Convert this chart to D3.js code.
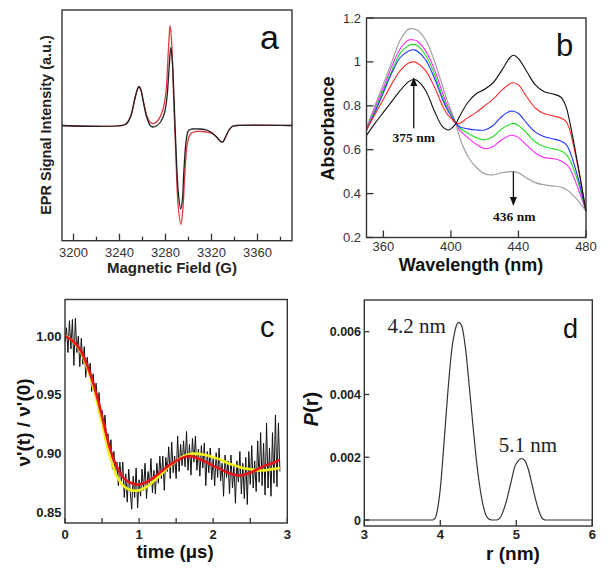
<!DOCTYPE html>
<html><head><meta charset="utf-8">
<script src="https://cdn.jsdelivr.net/npm/d3@7"></script>
<style>
html,body{margin:0;padding:0;background:#fff;}
svg{display:block;font-family:"Liberation Sans",Arial,sans-serif;}
</style></head>
<body>
<svg id="fig" width="608" height="577"></svg>
<script>
// ---------- Panel a: EPR spectra ----------
const aBlackField = [3190,3244,3247,3250,3253,3255.5,3257,3258.5,3261,3264,3267,3269,3272,3276,3279,3281,3283,3284.6,3286,3287.5,3289,3291,3293.2,3294.7,3296,3298,3300,3303,3310,3316,3320,3324,3327,3329.7,3332,3335,3338,3342,3390];
const aBlackVal   = [0,0.005,0.03,0.10,0.25,0.36,0.39,0.36,0.22,0.07,-0.005,-0.015,-0.005,0.04,0.12,0.25,0.55,0.78,0.63,0.25,-0.2,-0.65,-0.835,-0.74,-0.45,-0.15,-0.05,-0.035,-0.035,-0.045,-0.07,-0.11,-0.15,-0.165,-0.12,-0.05,-0.01,0,0];
const aRedField   = [3190,3244,3247,3250,3253,3255.5,3257,3258.5,3261,3264,3267,3270,3274,3278,3280.5,3282.5,3284,3285.5,3287,3289,3291,3293.4,3295,3297,3299,3302,3306,3312,3318,3322,3325,3328,3329.7,3332,3335,3338,3342,3390];
const aRedVal     = [0,0.005,0.03,0.10,0.25,0.36,0.39,0.36,0.23,0.09,0.03,0.02,0.06,0.17,0.35,0.75,1.0,0.8,0.3,-0.3,-0.8,-0.99,-0.85,-0.45,-0.18,-0.08,-0.06,-0.06,-0.07,-0.09,-0.12,-0.16,-0.165,-0.12,-0.05,-0.01,0,0];
const aTicks = [3200,3240,3280,3320,3360];
const aMinorTicks = [3220,3260,3300,3340,3380];

// ---------- Panel b: absorbance spectra ----------
const bWavelength = [350,355,360,365,370,375,378,380,385,390,395,398,400,403,405,410,415,420,425,430,435,437,440,445,450,455,460,465,468,470,475,480];
const bBlack   = [0.665,0.72,0.77,0.82,0.87,0.91,0.92,0.915,0.87,0.78,0.705,0.69,0.695,0.72,0.75,0.815,0.855,0.875,0.905,0.96,1.02,1.03,1.015,0.955,0.895,0.865,0.855,0.84,0.80,0.74,0.54,0.32];
const bRed     = [0.69,0.76,0.83,0.90,0.96,0.995,1.0,0.995,0.96,0.89,0.80,0.76,0.745,0.72,0.72,0.745,0.77,0.80,0.83,0.87,0.90,0.905,0.895,0.84,0.79,0.765,0.755,0.745,0.73,0.70,0.53,0.32];
const bBlue    = [0.69,0.77,0.86,0.95,1.02,1.05,1.055,1.05,1.01,0.93,0.83,0.78,0.755,0.72,0.705,0.695,0.69,0.69,0.71,0.75,0.775,0.775,0.765,0.72,0.68,0.66,0.65,0.64,0.625,0.60,0.48,0.32];
const bGreen   = [0.69,0.78,0.87,0.96,1.04,1.075,1.08,1.075,1.03,0.95,0.84,0.79,0.765,0.72,0.70,0.675,0.655,0.645,0.66,0.695,0.715,0.72,0.71,0.675,0.635,0.615,0.605,0.595,0.58,0.56,0.46,0.32];
const bMagenta = [0.69,0.79,0.88,0.98,1.06,1.10,1.10,1.095,1.05,0.97,0.86,0.80,0.77,0.72,0.69,0.655,0.625,0.605,0.615,0.645,0.665,0.665,0.655,0.62,0.585,0.565,0.56,0.55,0.535,0.52,0.43,0.32];
const bGray    = [0.70,0.80,0.90,1.00,1.10,1.15,1.15,1.145,1.10,1.01,0.89,0.82,0.78,0.72,0.66,0.57,0.52,0.49,0.485,0.495,0.50,0.50,0.495,0.47,0.45,0.44,0.435,0.43,0.42,0.41,0.37,0.32];
const bXTicks = [360,400,440,480];
const bYTicks = [0.2,0.4,0.6,0.8,1.0,1.2];

// ---------- Panel c: DEER time trace ----------
const cStart = 0, cStep = 0.02;
const cData = [0.995,1.007,0.986,1.013,0.989,1.014,0.975,1.015,0.986,1.000,0.974,0.998,0.976,0.991,0.965,0.982,0.968,0.977,0.953,0.968,
0.952,0.960,0.941,0.952,0.928,0.937,0.920,0.933,0.912,0.917,0.898,0.912,0.887,0.902,0.882,0.893,0.873,0.893,0.877,0.893,
0.863,0.883,0.859,0.887,0.868,0.853,0.881,0.863,0.888,0.854,0.878,0.864,0.887,0.869,0.892,0.862,0.885,0.874,0.896,0.867,
0.886,0.866,0.892,0.875,0.898,0.879,0.898,0.869,0.897,0.885,0.906,0.879,0.910,0.884,0.898,0.879,0.915,0.885,0.908,0.890,
0.911,0.889,0.919,0.886,0.908,0.882,0.913,0.893,0.915,0.886,0.904,0.881,0.907,0.888,0.909,0.873,0.902,0.884,0.905,0.878,
0.896,0.873,0.901,0.880,0.905,0.877,0.892,0.864,0.899,0.880,0.894,0.866,0.899,0.871,0.890,0.858,0.894,0.876,0.902,0.866,
0.892,0.862,0.897,0.857,0.902,0.874,0.907,0.871,0.894,0.868,0.911,0.876,0.918,0.873,0.909,0.865,0.926,0.871,0.905,0.864,
0.918,0.875,0.933,0.872,0.926,0.885];
const cRedT   = [0,0.1,0.2,0.3,0.4,0.5,0.6,0.7,0.8,0.9,1.0,1.1,1.2,1.3,1.4,1.5,1.6,1.7,1.8,1.9,2.0,2.1,2.2,2.3,2.4,2.5,2.6,2.7,2.8,2.9];
const cRedV   = [1.0,0.996,0.989,0.975,0.956,0.932,0.906,0.889,0.879,0.875,0.874,0.876,0.880,0.885,0.890,0.894,0.897,0.898,0.896,0.893,0.890,0.887,0.884,0.882,0.882,0.884,0.887,0.890,0.892,0.895];
const cYellowV= [1.0,0.996,0.988,0.973,0.952,0.926,0.899,0.881,0.872,0.869,0.869,0.872,0.877,0.883,0.889,0.894,0.898,0.900,0.900,0.899,0.897,0.895,0.892,0.890,0.888,0.887,0.886,0.886,0.887,0.888];
const cXTicks = [0,0.5,1,1.5,2,2.5,3];
const cXLabels = [0,1,2,3];
const cYTicks = [0.85,0.90,0.95,1.00];

// ---------- Panel d: distance distribution ----------
const dR = [3.0,3.9,3.93,3.96,4.0,4.05,4.1,4.15,4.2,4.24,4.28,4.33,4.38,4.43,4.48,4.53,4.58,4.63,4.68,4.74,4.78,4.83,4.88,4.93,4.98,5.03,5.07,5.11,5.16,5.21,5.26,5.31,5.35,5.38,6.0];
const dP = [0,0,0.00005,0.0003,0.0010,0.0025,0.0041,0.0054,0.0061,0.0063,0.0062,0.0055,0.0043,0.0030,0.0018,0.0009,0.0003,0.00005,0,0,0.00005,0.0003,0.0007,0.0012,0.0017,0.0019,0.00196,0.0019,0.0016,0.0011,0.0006,0.0002,0.00003,0,0];
const dXTicks = [3,4,5,6];
const dYTicks = [0,0.002,0.004,0.006];

const svg = d3.select("#fig");
const boxColor = "#333";
const SERIF = "'Liberation Serif','Times New Roman',serif";

function box(g, x, y){
  g.append("rect").attr("x", x.range()[0]).attr("y", y.range()[1])
   .attr("width", x.range()[1]-x.range()[0]).attr("height", y.range()[0]-y.range()[1])
   .attr("fill","none").attr("stroke",boxColor).attr("stroke-width",1.4);
}
function xTicksIn(g, x, y, vals, len){
  g.selectAll(null).data(vals).enter().append("line")
   .attr("x1", d=>x(d)).attr("x2", d=>x(d))
   .attr("y1", y.range()[0]).attr("y2", y.range()[0]-len)
   .attr("stroke",boxColor).attr("stroke-width",1.3);
}
function yTicksIn(g, x, y, vals, len){
  g.selectAll(null).data(vals).enter().append("line")
   .attr("y1", d=>y(d)).attr("y2", d=>y(d))
   .attr("x1", x.range()[0]).attr("x2", x.range()[0]+len)
   .attr("stroke",boxColor).attr("stroke-width",1.3);
}

// ===== Panel a =====
{
  const g = svg.append("g");
  const x = d3.scaleLinear().domain([3190,3390]).range([62,292]);
  const y = d3.scaleLinear().domain([-1.152,1.155]).range([240.7,10]);
  const line = d3.line().curve(d3.curveCatmullRom.alpha(0.5)).x(d=>x(d[0])).y(d=>y(d[1]));
  g.append("path").attr("d", line(d3.zip(aRedField,aRedVal))).attr("fill","none").attr("stroke","#e0393e").attr("stroke-width",1.3);
  g.append("path").attr("d", line(d3.zip(aBlackField,aBlackVal))).attr("fill","none").attr("stroke","#222").attr("stroke-width",1.3);
  box(g,x,y);
  xTicksIn(g,x,y,aTicks,7);
  xTicksIn(g,x,y,aMinorTicks,4);
  g.selectAll(null).data(aTicks).enter().append("text")
   .attr("x",d=>x(d)).attr("y",256.5).attr("text-anchor","middle")
   .attr("font-size",13).attr("fill","#333").text(d=>d);
  g.append("text").attr("x",172).attr("y",273).attr("text-anchor","middle")
   .attr("font-size",15).attr("font-weight","bold").attr("fill","#222").text("Magnetic Field (G)");
  g.append("text").attr("transform","translate(51,125) rotate(-90)").attr("text-anchor","middle")
   .attr("font-size",14.5).attr("font-weight","bold").attr("fill","#222").text("EPR Signal Intensity (a.u.)");
  g.append("text").attr("x",260).attr("y",49).attr("font-size",34).attr("fill","#111").text("a");
}

// ===== Panel b =====
{
  const g = svg.append("g");
  const x = d3.scaleLinear().domain([350,480]).range([366.5,586]);
  const y = d3.scaleLinear().domain([0.2,1.2]).range([237.5,18]);
  const line = d3.line().curve(d3.curveCatmullRom.alpha(0.5)).x((d,i)=>x(bWavelength[i])).y(d=>y(d));
  const series = [[bGray,"#9a9a9a"],[bMagenta,"#ff2cff"],[bGreen,"#22dd22"],[bBlue,"#2233ff"],[bRed,"#ff2a2a"],[bBlack,"#111"]];
  series.forEach(([s,c])=>{
    g.append("path").attr("d",line(s)).attr("fill","none").attr("stroke",c).attr("stroke-width",1.1);
  });
  box(g,x,y);
  xTicksIn(g,x,y,bXTicks,7);
  yTicksIn(g,x,y,bYTicks,7);
  g.selectAll(null).data(bXTicks).enter().append("text")
   .attr("x",d=>x(d)).attr("y",250.5).attr("text-anchor","middle")
   .attr("font-size",13).attr("fill","#333").text(d=>d);
  g.selectAll(null).data(bYTicks).enter().append("text")
   .attr("x",361).attr("y",d=>y(d)+4.5).attr("text-anchor","end")
   .attr("font-size",13).attr("fill","#333").text(d=>Math.abs(d-1)<1e-9?"1":d3.format(".1f")(d));
  g.append("text").attr("x",471).attr("y",271).attr("text-anchor","middle")
   .attr("font-size",18).attr("font-weight","bold").attr("fill","#111").text("Wavelength (nm)");
  g.append("text").attr("transform","translate(334,128.5) rotate(-90)").attr("text-anchor","middle")
   .attr("font-size",18).attr("font-weight","bold").attr("fill","#111").text("Absorbance");
  g.append("text").attr("x",556).attr("y",56).attr("font-size",31).attr("fill","#111").text("b");
  // arrows
  const defs = svg.append("defs");
  defs.append("marker").attr("id","ah").attr("viewBox","0 0 10 10").attr("refX",9).attr("refY",5)
    .attr("markerWidth",7).attr("markerHeight",9).attr("orient","auto-start-reverse")
    .append("path").attr("d","M0,1 L10,5 L0,9 z").attr("fill","#111");
  g.append("line").attr("x1",x(378)).attr("x2",x(378)).attr("y1",y(0.698)).attr("y2",y(0.926))
    .attr("stroke","#111").attr("stroke-width",1.3).attr("marker-end","url(#ah)");
  g.append("text").attr("x",x(378)).attr("y",y(0.637)).attr("text-anchor","middle")
    .style("font-family",SERIF).attr("font-weight","bold").attr("font-size",13.5).attr("fill","#111").text("375 nm");
  g.append("line").attr("x1",x(437)).attr("x2",x(437)).attr("y1",y(0.50)).attr("y2",y(0.349))
    .attr("stroke","#111").attr("stroke-width",1.3).attr("marker-end","url(#ah)");
  g.append("text").attr("x",x(437.5)).attr("y",y(0.273)).attr("text-anchor","middle")
    .style("font-family",SERIF).attr("font-weight","bold").attr("font-size",13.5).attr("fill","#111").text("436 nm");
}

// ===== Panel c =====
{
  const g = svg.append("g");
  const x = d3.scaleLinear().domain([0,3]).range([65,287.3]);
  const y = d3.scaleLinear().domain([0.8413,1.031]).range([523,299.5]);
  const raw = d3.line().x((d,i)=>x(cStart+i*cStep)).y(d=>y(d));
  g.append("path").attr("d",raw(cData)).attr("fill","none").attr("stroke","#111").attr("stroke-width",1);
  const fit = d3.line().curve(d3.curveCatmullRom.alpha(0.5)).x((d,i)=>x(cRedT[i])).y(d=>y(d));
  g.append("path").attr("d",fit(cYellowV)).attr("fill","none").attr("stroke","#f2f21a").attr("stroke-width",2.6);
  g.append("path").attr("d",fit(cRedV)).attr("fill","none").attr("stroke","#e8141b").attr("stroke-width",2.6);
  box(g,x,y);
  xTicksIn(g,x,y,cXTicks,5);
  g.selectAll(null).data(cXLabels).enter().append("text")
   .attr("x",d=>x(d)).attr("y",539).attr("text-anchor","middle")
   .attr("font-size",13).attr("font-weight","bold").attr("fill","#222").text(d=>d);
  g.selectAll(null).data(cYTicks).enter().append("text")
   .attr("x",61.5).attr("y",d=>y(d)+4.5).attr("text-anchor","end")
   .attr("font-size",13).attr("font-weight","bold").attr("fill","#222").text(d=>d3.format(".2f")(d));
  g.append("text").attr("x",175).attr("y",557.5).attr("text-anchor","middle")
   .attr("font-size",18.5).attr("font-weight","bold").attr("fill","#111").text("time (\u03bcs)");
  g.append("text").attr("transform","translate(30,422.5) rotate(-90)").attr("text-anchor","middle")
   .attr("font-size",19).attr("font-weight","bold").attr("fill","#111")
   .text("\u03bd'(t) / \u03bd'(0)");
  g.append("text").attr("x",260).attr("y",337).attr("font-size",29).attr("fill","#111").text("c");
}

// ===== Panel d =====
{
  const g = svg.append("g");
  const x = d3.scaleLinear().domain([3,6]).range([364.3,592.3]);
  const y = d3.scaleLinear().domain([-0.000191,0.00701]).range([526,300]);
  const line = d3.line().curve(d3.curveMonotoneX).x((d,i)=>x(dR[i])).y(d=>y(d));
  g.append("path").attr("d",line(dP)).attr("fill","none").attr("stroke","#333").attr("stroke-width",1.2);
  box(g,x,y);
  xTicksIn(g,x,y,dXTicks,6);
  yTicksIn(g,x,y,dYTicks,5);
  g.selectAll(null).data(dXTicks).enter().append("text")
   .attr("x",d=>x(d)).attr("y",539).attr("text-anchor","middle")
   .attr("font-size",13).attr("font-weight","bold").attr("fill","#222").text(d=>d);
  g.selectAll(null).data(dYTicks).enter().append("text")
   .attr("x",361).attr("y",d=>y(d)+4.5).attr("text-anchor","end")
   .attr("font-size",12.5).attr("font-weight","bold").attr("fill","#222").text(d=>d===0?"0":d3.format(".3f")(d));
  g.append("text").attr("x",513).attr("y",559.5).attr("text-anchor","middle")
   .attr("font-size",19).attr("font-weight","bold").attr("fill","#111").text("r (nm)");
  const yl = g.append("text").attr("transform","translate(318,409) rotate(-90)").attr("text-anchor","middle")
   .attr("font-size",20).attr("font-weight","bold").attr("fill","#111");
  yl.append("tspan").attr("font-style","italic").text("P");
  yl.append("tspan").text("(r)");
  g.append("text").attr("x",416.7).attr("y",332.5).attr("text-anchor","middle")
   .style("font-family",SERIF).attr("font-size",21).attr("fill","#222").text("4.2 nm");
  g.append("text").attr("x",528).attr("y",451.5).attr("text-anchor","middle")
   .style("font-family",SERIF).attr("font-size",21).attr("fill","#222").text("5.1 nm");
  g.append("text").attr("x",563).attr("y",337.5).attr("font-size",27).attr("fill","#111").text("d");
}
</script>
</body></html>
